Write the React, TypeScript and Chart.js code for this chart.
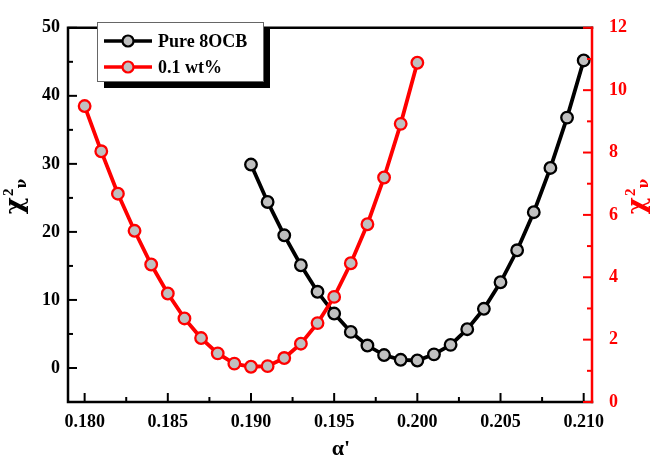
import React, { useEffect, useRef } from "react";
import { Chart, registerables } from "chart.js";

Chart.register(...registerables);

// ---- data ----
const pureAlpha = [0.190, 0.191, 0.192, 0.193, 0.194, 0.195, 0.196, 0.197, 0.198, 0.199, 0.200,
  0.201, 0.202, 0.203, 0.204, 0.205, 0.206, 0.207, 0.208, 0.209, 0.210];
const pureChi = [29.9, 24.4, 19.5, 15.1, 11.2, 8.0, 5.3, 3.3, 1.9, 1.2, 1.1,
  2.0, 3.4, 5.7, 8.7, 12.6, 17.3, 22.9, 29.4, 36.8, 45.2];
const wtAlpha = [0.180, 0.181, 0.182, 0.183, 0.184, 0.185, 0.186, 0.187, 0.188, 0.189, 0.190,
  0.191, 0.192, 0.193, 0.194, 0.195, 0.196, 0.197, 0.198, 0.199, 0.200];
const wtChi = [9.49, 8.04, 6.68, 5.49, 4.41, 3.48, 2.68, 2.05, 1.56, 1.23, 1.13,
  1.15, 1.41, 1.87, 2.53, 3.37, 4.45, 5.70, 7.20, 8.92, 10.88];

const seriesNames = ["Pure 8OCB", "0.1 wt%"];
const xTicks = [0.180, 0.185, 0.190, 0.195, 0.200, 0.205, 0.210];
const xMinor = [0.1825, 0.1875, 0.1925, 0.1975, 0.2025, 0.2075];
const leftTicks = [0, 10, 20, 30, 40, 50];
const leftMinor = [5, 15, 25, 35, 45];
const rightTicks = [0, 2, 4, 6, 8, 10, 12];
const rightMinor = [1, 3, 5, 7, 9, 11];

const FONT = "'Times New Roman', 'Liberation Serif', serif";
const GREEK = "'DejaVu Serif', 'Liberation Serif', serif";
const RED = "#ff0000";
const GRAY = "#c0c0c0";

const framePlugin = {
  id: "framePlugin",
  afterDraw(chart: any) {
    const ctx = chart.ctx;
    const { left, right, top, bottom } = chart.chartArea;
    const xs = chart.scales.x;
    const yl = chart.scales.y;
    const yr = chart.scales.y1;
    ctx.save();
    // frame
    ctx.lineCap = "square";
    ctx.lineWidth = 2.5;
    ctx.strokeStyle = "#000";
    ctx.beginPath();
    ctx.moveTo(right, top);
    ctx.lineTo(left, top);
    ctx.lineTo(left, bottom);
    ctx.lineTo(right, bottom);
    ctx.stroke();
    ctx.strokeStyle = RED;
    ctx.beginPath();
    ctx.moveTo(right, top);
    ctx.lineTo(right, bottom);
    ctx.stroke();
    // ticks
    ctx.lineWidth = 2;
    ctx.lineCap = "butt";
    ctx.strokeStyle = "#000";
    const tick = (x1: number, y1: number, x2: number, y2: number) => {
      ctx.beginPath();
      ctx.moveTo(x1, y1);
      ctx.lineTo(x2, y2);
      ctx.stroke();
    };
    xTicks.forEach((v) => { const p = xs.getPixelForValue(v); tick(p, bottom, p, bottom - 9); });
    xMinor.forEach((v) => { const p = xs.getPixelForValue(v); tick(p, bottom, p, bottom - 5); });
    leftTicks.forEach((v) => { const p = yl.getPixelForValue(v); tick(left, p, left + 9, p); });
    leftMinor.forEach((v) => { const p = yl.getPixelForValue(v); tick(left, p, left + 5, p); });
    ctx.strokeStyle = RED;
    rightTicks.forEach((v) => { const p = yr.getPixelForValue(v); tick(right, p, right - 9, p); });
    rightMinor.forEach((v) => { const p = yr.getPixelForValue(v); tick(right, p, right - 5, p); });

    // axis titles: chi^2_nu, rotated
    const drawChi = (cx: number, cy: number, color: string) => {
      ctx.save();
      ctx.translate(cx, cy);
      ctx.rotate(-Math.PI / 2);
      ctx.fillStyle = color;
      ctx.textBaseline = "alphabetic";
      ctx.textAlign = "left";
      ctx.font = `bold 26px ${GREEK}`;
      const w1 = ctx.measureText("χ").width;
      ctx.font = `bold 15px ${FONT}`;
      const w2 = ctx.measureText("2").width;
      ctx.font = `bold 14px ${GREEK}`;
      const w3 = ctx.measureText("ν").width;
      const total = w1 + w2 + w3;
      const x0 = -total / 2;
      ctx.font = `bold 26px ${GREEK}`;
      ctx.fillText("χ", x0, 0);
      ctx.font = `bold 15px ${FONT}`;
      ctx.fillText("2", x0 + w1 + 1, -10);
      ctx.font = `bold 14px ${GREEK}`;
      ctx.fillText("ν", x0 + w1 + w2 + 1, 3);
      ctx.restore();
    };
    drawChi(23, 197, "#000");
    drawChi(645, 197, RED);

    ctx.fillStyle = "#000";
    ctx.font = `bold 22px ${FONT}`;
    ctx.textAlign = "center";
    ctx.textBaseline = "alphabetic";
    ctx.fillText("α'", 341, 455);

    // legend
    const bx = 97, by = 22, bw = 166, bh = 59;
    ctx.fillStyle = "#000";
    ctx.fillRect(bx + 7, by + 7, bw, bh);
    ctx.fillStyle = "#fff";
    ctx.fillRect(bx, by, bw, bh);
    ctx.strokeStyle = "#666";
    ctx.lineWidth = 1;
    ctx.strokeRect(bx + 0.5, by + 0.5, bw, bh);
    const rows = [
      { y: 41, color: "#000", label: seriesNames[0] },
      { y: 67, color: RED, label: seriesNames[1] },
    ];
    rows.forEach((r) => {
      ctx.strokeStyle = r.color;
      ctx.lineWidth = 3.5;
      tick(104, r.y, 152, r.y);
      ctx.beginPath();
      ctx.arc(128, r.y, 5.5, 0, Math.PI * 2);
      ctx.fillStyle = GRAY;
      ctx.fill();
      ctx.lineWidth = 2.2;
      ctx.stroke();
      ctx.fillStyle = "#000";
      ctx.font = `bold 18px ${FONT}`;
      ctx.textAlign = "left";
      ctx.textBaseline = "middle";
      ctx.fillText(r.label, 158, r.y + 1);
    });
    ctx.restore();
  },
};

export default function App() {
  const ref = useRef<HTMLCanvasElement | null>(null);
  useEffect(() => {
    if (!ref.current) return;
    const tickFont = { family: FONT, size: 18, weight: "bold" as const };
    const chart = new Chart(ref.current, {
      type: "line",
      data: {
        datasets: [
          {
            label: seriesNames[0],
            data: pureAlpha.map((x, i) => ({ x, y: pureChi[i] })),
            yAxisID: "y",
            borderColor: "#000",
            borderWidth: 3.8,
            pointRadius: 5.8,
            pointBorderWidth: 2.3,
            pointBackgroundColor: GRAY,
            pointBorderColor: "#000",
            order: 1,
          },
          {
            label: seriesNames[1],
            data: wtAlpha.map((x, i) => ({ x, y: wtChi[i] })),
            yAxisID: "y1",
            borderColor: RED,
            borderWidth: 3.8,
            pointRadius: 5.8,
            pointBorderWidth: 2.3,
            pointBackgroundColor: GRAY,
            pointBorderColor: RED,
            order: 0,
          },
        ],
      },
      options: {
        animation: false,
        responsive: false,
        devicePixelRatio: 1,
        layout: { padding: { top: 10, left: 0, right: 0, bottom: 0 } },
        plugins: { legend: { display: false }, tooltip: { enabled: false } },
        scales: {
          x: {
            type: "linear",
            min: 0.179,
            max: 0.2105,
            grid: { display: false, drawTicks: false },
            border: { display: false },
            afterBuildTicks: (s: any) => { s.ticks = xTicks.map((v) => ({ value: v })); },
            afterFit: (s: any) => { s.height = 59; },
            ticks: {
              font: tickFont,
              color: "#000",
              padding: 10,
              maxRotation: 0,
              autoSkip: false,
              callback: (v: any) => Number(v).toFixed(3),
            },
          },
          y: {
            type: "linear",
            position: "left",
            min: -5,
            max: 50,
            grid: { display: false, drawTicks: false },
            border: { display: false },
            afterBuildTicks: (s: any) => { s.ticks = leftTicks.map((v) => ({ value: v })); },
            afterFit: (s: any) => { s.width = 68; },
            ticks: { font: tickFont, color: "#000", padding: 8 },
          },
          y1: {
            type: "linear",
            position: "right",
            min: 0,
            max: 12,
            grid: { display: false, drawTicks: false },
            border: { display: false },
            afterBuildTicks: (s: any) => { s.ticks = rightTicks.map((v) => ({ value: v })); },
            afterFit: (s: any) => { s.width = 62; },
            ticks: { font: tickFont, color: RED, padding: 17 },
          },
        },
      },
      plugins: [framePlugin],
    });
    return () => chart.destroy();
  }, []);
  return (
    <canvas
      ref={ref}
      width={654}
      height={461}
      style={{ position: "absolute", left: 0, top: 0, display: "block", width: 654, height: 461 }}
    />
  );
}
